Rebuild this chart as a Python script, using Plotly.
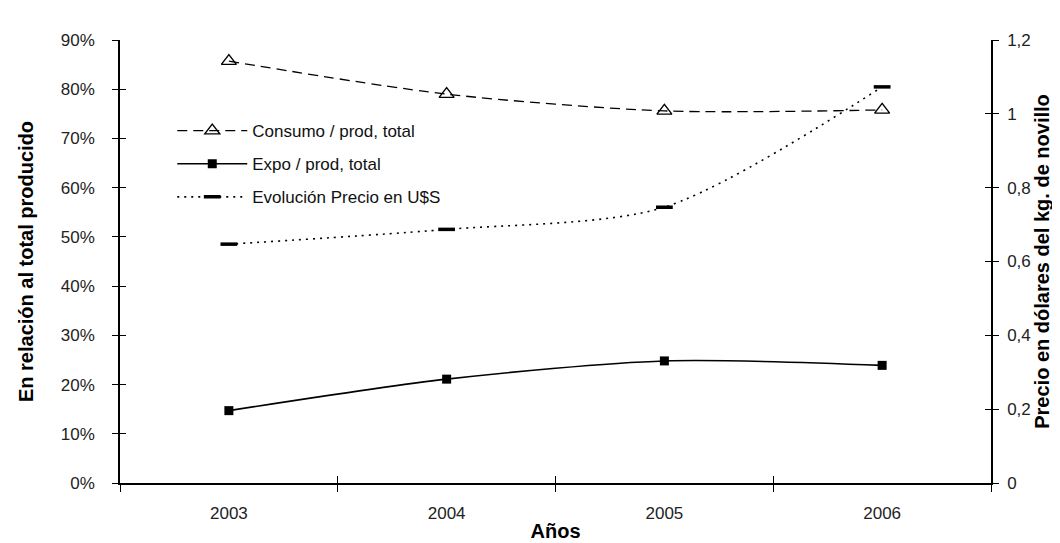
import plotly.graph_objects as go

years = ["2003", "2004", "2005", "2006"]
consumo = [0.857, 0.790, 0.756, 0.758]
expo = [0.147, 0.211, 0.248, 0.239]
precio = [0.647, 0.687, 0.747, 1.073]

left_ticks = [0, 0.1, 0.2, 0.3, 0.4, 0.5, 0.6, 0.7, 0.8, 0.9]
right_ticks = [0, 0.2, 0.4, 0.6, 0.8, 1.0, 1.2]

names = ["Consumo / prod, total", "Expo / prod, total", "Evolución Precio en U$S"]

xpos = list(range(len(years)))
bounds = [i - 0.5 for i in range(len(years) + 1)]

FONT = "Liberation Sans, Arial, sans-serif"

fig = go.Figure()
fig.add_trace(go.Scatter(
    x=xpos, y=consumo, name=names[0], mode="lines+markers",
    line=dict(color="black", width=1.3, dash="10px,6px", shape="spline", smoothing=0.8),
    marker=dict(symbol="triangle-up-open", size=13, color="black", line=dict(width=1.4)),
    legendgroup="a", yaxis="y"))
fig.add_trace(go.Scatter(
    x=xpos, y=expo, name=names[1], mode="lines+markers",
    line=dict(color="black", width=1.6, shape="spline", smoothing=0.8),
    marker=dict(symbol="square", size=9, color="black"),
    legendgroup="b", yaxis="y"))
fig.add_trace(go.Scatter(
    x=xpos, y=precio, name=names[2], mode="lines+markers",
    line=dict(color="black", width=1.6, dash="2px,5px", shape="spline", smoothing=0.8),
    marker=dict(symbol="line-ew", size=12, color="black", line=dict(width=3.5, color="black")),
    legendgroup="c", yaxis="y2"))

# invisible helper traces so the overlay axes (inner halves of crossing ticks) render
for xa, ya in [("x2", "y"), ("x", "y3"), ("x", "y4")]:
    fig.add_trace(go.Scatter(x=[None], y=[None], xaxis=xa, yaxis=ya,
                             showlegend=False, hoverinfo="skip", mode="lines"))

xrange = [-0.5, len(years) - 0.5]
tickfont = dict(family=FONT, size=17, color="#222")
titlefont = dict(family=FONT, size=20, color="black")

fig.update_layout(
    width=1060, height=543,
    margin=dict(l=112, r=77, t=32, b=66),
    paper_bgcolor="white", plot_bgcolor="white",
    separators=",.",
    showlegend=True,
    legend=dict(x=0.06, y=0.835, xanchor="left", yanchor="top",
                bgcolor="rgba(0,0,0,0)", font=dict(family=FONT, size=17, color="#111"),
                tracegroupgap=8, itemwidth=70),
    xaxis=dict(range=xrange, tickmode="array", tickvals=xpos, ticktext=years,
               ticks="", showline=True, linecolor="black", linewidth=1.5,
               showgrid=False, zeroline=False, tickfont=tickfont,
               ticklabelstandoff=14,
               minor=dict(tickmode="array", tickvals=bounds, ticks="outside",
                          ticklen=7, tickwidth=1.2, tickcolor="black", showgrid=False),
               title=dict(text="<b>Años</b>", font=titlefont, standoff=2)),
    xaxis2=dict(range=xrange, overlaying="x", anchor="y", side="bottom",
                tickmode="array", tickvals=bounds, ticks="inside", ticklen=7,
                tickwidth=1.2, tickcolor="black", showticklabels=False,
                showline=False, showgrid=False, zeroline=False),
    yaxis=dict(range=[0, 0.9], tickmode="array", tickvals=left_ticks, tickformat=".0%",
               ticks="outside", ticklen=6, tickwidth=1.2, tickcolor="black",
               showline=True, linecolor="black", linewidth=1.5, showgrid=False,
               zeroline=False, tickfont=tickfont, ticklabelstandoff=14,
               title=dict(text="<b>En relación al total producido</b>",
                          font=titlefont, standoff=22)),
    yaxis3=dict(range=[0, 0.9], overlaying="y", anchor="x", side="left",
                tickmode="array", tickvals=left_ticks, ticks="inside", ticklen=6,
                tickwidth=1.2, tickcolor="black", showticklabels=False,
                showline=False, showgrid=False, zeroline=False),
    yaxis2=dict(range=[0, 1.2], overlaying="y", side="right", anchor="x",
                tickmode="array", tickvals=right_ticks,
                ticks="outside", ticklen=6, tickwidth=1.2, tickcolor="black",
                showline=True, linecolor="black", linewidth=1.5, showgrid=False,
                zeroline=False, tickfont=tickfont, ticklabelstandoff=5,
                title=dict(text="<b>Precio en dólares del kg. de novillo</b>",
                           font=titlefont, standoff=0)),
    yaxis4=dict(range=[0, 1.2], overlaying="y", anchor="x", side="right",
                tickmode="array", tickvals=right_ticks, ticks="inside", ticklen=6,
                tickwidth=1.2, tickcolor="black", showticklabels=False,
                showline=False, showgrid=False, zeroline=False),
)

fig.write_html("out.html")
